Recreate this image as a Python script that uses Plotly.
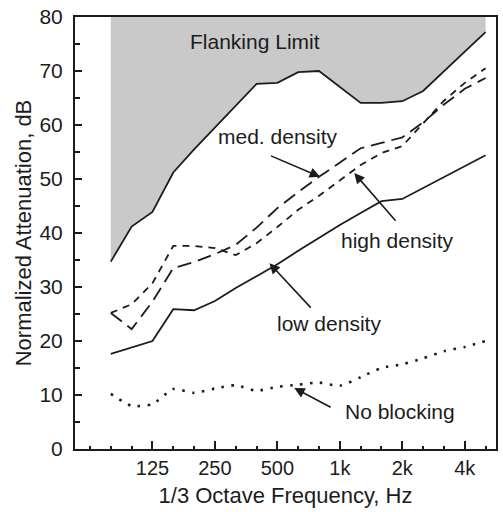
import plotly.graph_objects as go

# 1/3-octave band centres (index = position on the x axis)
bands = ["50", "63", "80", "100", "125", "160", "200", "250", "315", "400", "500",
         "630", "800", "1k", "1.25k", "1.6k", "2k", "2.5k", "3.15k", "4k", "5k"]
freqs = bands[2:]  # measured bands: 80 Hz .. 5 kHz

flanking_limit = [34.7, 41.2, 43.9, 51.2, 55.5, 59.5, 63.5, 67.6, 67.8, 69.8,
                  70.0, 67.0, 64.1, 64.1, 64.4, 66.3, 70.0, 73.6, 77.2]
med_density = [25.2, 22.2, 27.3, 33.5, 34.6, 36.1, 37.8, 41.0, 44.6, 47.6,
               50.4, 53.0, 55.7, 56.7, 57.7, 60.5, 63.8, 66.7, 68.7]
high_density = [25.2, 26.8, 30.7, 37.6, 37.6, 37.2, 35.9, 38.1, 41.1, 44.3,
                46.9, 49.8, 52.6, 54.8, 56.1, 60.3, 64.5, 67.8, 70.5]
low_density = [17.6, 18.8, 20.0, 25.9, 25.7, 27.4, 29.8, 32.0, 34.2, 36.7,
               39.1, 41.5, 43.7, 45.9, 46.3, 48.3, 50.3, 52.4, 54.4]
no_blocking = [10.2, 8.0, 8.3, 11.1, 10.4, 11.2, 11.8, 10.8, 11.5, 11.9,
               12.3, 11.7, 13.3, 15.0, 15.7, 16.8, 18.1, 18.9, 20.0]

octave_ticks = ["63", "125", "250", "500", "1k", "2k", "4k"]
octave_labels = ["", "125", "250", "500", "1k", "2k", "4k"]
y_ticks = [0, 10, 20, 30, 40, 50, 60, 70, 80]
y_top = 80

x = [bands.index(f) for f in freqs]
INK = "#1c1c1c"
FONT = "Liberation Sans, Arial, sans-serif"

fig = go.Figure()
# flanking-limit shaded region (from the curve up to the top of the chart)
fig.add_trace(go.Scatter(x=x, y=[y_top] * len(x), mode="lines",
                         line=dict(width=0), hoverinfo="skip", showlegend=False))
fig.add_trace(go.Scatter(x=x, y=flanking_limit, mode="lines", fill="tonexty",
                         fillcolor="#c9c9c9", line=dict(color=INK, width=1.8),
                         showlegend=False))
fig.add_trace(go.Scatter(x=x, y=med_density, mode="lines",
                         line=dict(color=INK, width=1.8, dash="14px,7px"), showlegend=False))
fig.add_trace(go.Scatter(x=x, y=high_density, mode="lines",
                         line=dict(color=INK, width=1.8, dash="7px,6px"), showlegend=False))
fig.add_trace(go.Scatter(x=x, y=low_density, mode="lines",
                         line=dict(color=INK, width=1.8), showlegend=False))
fig.add_trace(go.Scatter(x=x, y=no_blocking, mode="lines",
                         line=dict(color=INK, width=2.6, dash="2.5px,7.5px",
                                   shape="spline", smoothing=0.6),
                         showlegend=False))

def label(text, xv, yv):
    fig.add_annotation(x=xv, y=yv, text=text, showarrow=False,
                       font=dict(family=FONT, size=21, color=INK))

def arrow(x0, y0, x1, y1):
    fig.add_annotation(x=x1, y=y1, ax=x0, ay=y0, axref="x", ayref="y", text="",
                       showarrow=True, arrowhead=2, arrowsize=1.3, arrowwidth=1.6,
                       arrowcolor=INK, standoff=0, startstandoff=0)

label("Flanking Limit", 8.94, 75.4)
label("med. density", 10.05, 57.8)
label("high density", 15.79, 38.7)
label("low density", 12.49, 23.3)
label("No blocking", 15.89, 7.0)
arrow(9.62, 54.4, 12.05, 50.4)
arrow(15.74, 42.0, 13.69, 51.1)
arrow(11.67, 25.9, 9.62, 34.4)
arrow(12.63, 7.6, 10.81, 11.3)

fig.update_layout(
    width=503, height=512, margin=dict(l=75, r=5, t=17, b=63),
    paper_bgcolor="white", plot_bgcolor="white",
    font=dict(family=FONT, size=20, color=INK),
    xaxis=dict(range=[0.28, 20.5], tickmode="array",
               tickvals=[bands.index(t) for t in octave_ticks], ticktext=octave_labels,
               ticks="inside", ticklen=8, tickwidth=1.5, tickcolor=INK,
               minor=dict(tickmode="array", tickvals=list(range(len(bands))),
                          ticks="inside", ticklen=3, tickwidth=1.5, tickcolor=INK),
               showgrid=False, zeroline=False, showline=True, linecolor=INK,
               linewidth=2, mirror=True,
               title=dict(text="1/3 Octave Frequency, Hz", font=dict(size=22), standoff=10),
               tickfont=dict(size=20)),
    yaxis=dict(range=[0, y_top], tickmode="array", tickvals=y_ticks,
               ticks="inside", ticklen=7, tickwidth=1.5, tickcolor=INK,
               minor=dict(dtick=5, ticks="inside", ticklen=5, tickwidth=1.5, tickcolor=INK),
               showgrid=False, zeroline=False, showline=True, linecolor=INK,
               linewidth=2, mirror=True,
               title=dict(text="Normalized Attenuation, dB", font=dict(size=22), standoff=2),
               tickfont=dict(size=21), ticklabelstandoff=6),
)

fig.write_html("out.html")
